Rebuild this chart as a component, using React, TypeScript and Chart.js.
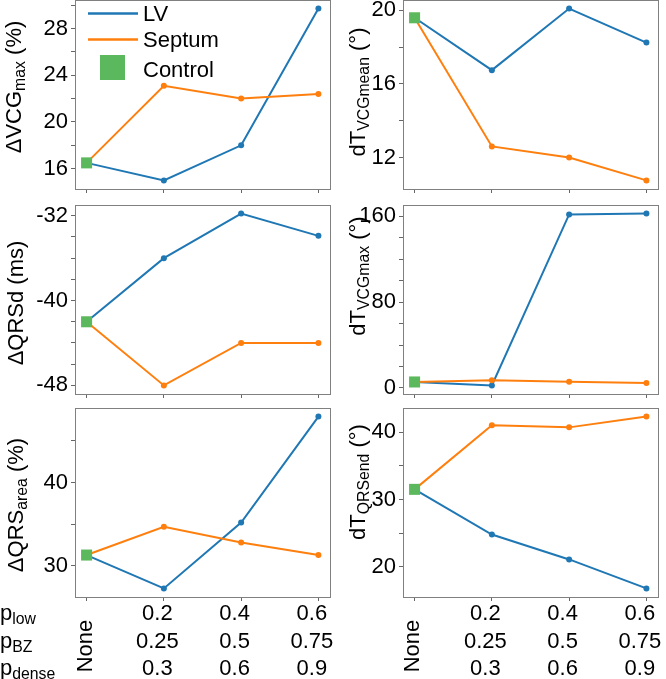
import React, { useEffect, useRef } from 'react';
import { Chart, registerables } from 'chart.js';

Chart.register(...registerables);

// ---------------- data ----------------
const CATEGORIES = ['None', '0.2', '0.4', '0.6'];
const NONE_LABEL = 'None';
const P_LOW_LABELS = ['0.2', '0.4', '0.6'];
const P_BZ_LABELS = ['0.25', '0.5', '0.75'];
const P_DENSE_LABELS = ['0.3', '0.6', '0.9'];
const SERIES_NAMES = ['LV', 'Septum', 'Control'];

const VCGMAX_LV = [16.5, 15.0, 18.0, 29.7];
const VCGMAX_SEPTUM = [16.5, 23.1, 22.0, 22.4];
const VCGMAX_CONTROL = 16.5;
const VCGMAX_MAJOR = [16, 20, 24, 28];
const VCGMAX_MINOR = [18, 22, 26, 30];

const TVCGMEAN_LV = [19.6, 16.75, 20.1, 18.25];
const TVCGMEAN_SEPTUM = [19.6, 12.6, 12.0, 10.75];
const TVCGMEAN_CONTROL = 19.6;
const TVCGMEAN_MAJOR = [12, 16, 20];
const TVCGMEAN_MINOR = [14, 18];

const QRSD_LV = [-42.0, -36.0, -31.8, -33.9];
const QRSD_SEPTUM = [-42.0, -48.0, -44.0, -44.0];
const QRSD_CONTROL = -42.0;
const QRSD_MAJOR = [-48, -40, -32];
const QRSD_MINOR = [-46, -44, -42, -38, -36, -34];

const TVCGMAX_LV = [5.6, 2.4, 161.6, 162.4];
const TVCGMAX_SEPTUM = [5.6, 7.1, 5.8, 4.6];
const TVCGMAX_CONTROL = 5.6;
const TVCGMAX_MAJOR = [0, 80, 160];
const TVCGMAX_MINOR = [20, 40, 60, 100, 120, 140];

const QRSAREA_LV = [31.3, 27.3, 35.2, 47.9];
const QRSAREA_SEPTUM = [31.3, 34.7, 32.8, 31.3];
const QRSAREA_CONTROL = 31.3;
const QRSAREA_MAJOR = [30, 40];
const QRSAREA_MINOR = [35, 45];

const TQRSEND_LV = [31.5, 24.8, 21.1, 16.8];
const TQRSEND_SEPTUM = [31.5, 41.0, 40.7, 42.3];
const TQRSEND_CONTROL = 31.5;
const TQRSEND_MAJOR = [20, 30, 40];
const TQRSEND_MINOR = [25, 35];

// ---------------- style ----------------
const FONT = "'Liberation Sans', Arial, Helvetica, sans-serif";
const C_LV = '#1f77b4';
const C_SEPTUM = '#ff7f0e';
const C_CTRL = '#5cb85c';
const FRAME = '#808080';
const TICK = '#666666';
const FS = 22;
const FS_SUB = 15.8;
const XH = 6;

type Seg = { t: string; sub?: boolean };
interface Panel {
  lv: number[];
  septum: number[];
  control: number;
  major: number[];
  minor: number[];
  title: Seg[];
  titleX: number;
  titleY: number;
  rect: [number, number, number, number];
  canvas: [number, number, number, number];
  legend?: boolean;
  bottomLabels?: boolean;
  rowLabels?: boolean;
  noneShift: number;
}

const LEFT_COL: [number, number] = [0, 340];
const RIGHT_COL: [number, number] = [333, 333];

const PANELS: Panel[] = [
  {
    lv: VCGMAX_LV, septum: VCGMAX_SEPTUM, control: VCGMAX_CONTROL,
    major: VCGMAX_MAJOR, minor: VCGMAX_MINOR,
    title: [{ t: 'ΔVCG' }, { t: 'max', sub: true }, { t: ' (%)' }],
    titleX: 21, titleY: 87,
    rect: [75, 0, 330, 189], canvas: [LEFT_COL[0], -20, LEFT_COL[1], 230],
    legend: true, noneShift: 5,
  },
  {
    lv: TVCGMEAN_LV, septum: TVCGMEAN_SEPTUM, control: TVCGMEAN_CONTROL,
    major: TVCGMEAN_MAJOR, minor: TVCGMEAN_MINOR,
    title: [{ t: 'dT' }, { t: 'VCGmean', sub: true }, { t: ' (°)' }],
    titleX: 365, titleY: 92,
    rect: [403, 0, 658, 189], canvas: [RIGHT_COL[0], -20, RIGHT_COL[1], 230],
    noneShift: 4,
  },
  {
    lv: QRSD_LV, septum: QRSD_SEPTUM, control: QRSD_CONTROL,
    major: QRSD_MAJOR, minor: QRSD_MINOR,
    title: [{ t: 'ΔQRSd (ms)' }],
    titleX: 23, titleY: 303,
    rect: [75, 205, 330, 394], canvas: [LEFT_COL[0], 185, LEFT_COL[1], 228],
    noneShift: 5,
  },
  {
    lv: TVCGMAX_LV, septum: TVCGMAX_SEPTUM, control: TVCGMAX_CONTROL,
    major: TVCGMAX_MAJOR, minor: TVCGMAX_MINOR,
    title: [{ t: 'dT' }, { t: 'VCGmax', sub: true }, { t: ' (°)' }],
    titleX: 365, titleY: 276,
    rect: [403, 205, 658, 394], canvas: [RIGHT_COL[0], 185, RIGHT_COL[1], 228],
    noneShift: 4,
  },
  {
    lv: QRSAREA_LV, septum: QRSAREA_SEPTUM, control: QRSAREA_CONTROL,
    major: QRSAREA_MAJOR, minor: QRSAREA_MINOR,
    title: [{ t: 'ΔQRS' }, { t: 'area', sub: true }, { t: ' (%)' }],
    titleX: 23, titleY: 505,
    rect: [75, 408, 330, 597], canvas: [LEFT_COL[0], 390, LEFT_COL[1], 289],
    bottomLabels: true, rowLabels: true, noneShift: 5,
  },
  {
    lv: TQRSEND_LV, septum: TQRSEND_SEPTUM, control: TQRSEND_CONTROL,
    major: TQRSEND_MAJOR, minor: TQRSEND_MINOR,
    title: [{ t: 'dT' }, { t: 'QRSend', sub: true }, { t: ' (°)' }],
    titleX: 365, titleY: 482,
    rect: [403, 408, 658, 597], canvas: [RIGHT_COL[0], 390, RIGHT_COL[1], 289],
    bottomLabels: true, noneShift: 4,
  },
];

function segFont(s: Seg) {
  return `${s.sub ? FS_SUB : FS}px ${FONT}`;
}

function drawRich(ctx: CanvasRenderingContext2D, segs: Seg[], x: number, y: number, align: 'left' | 'center') {
  let w = 0;
  for (const s of segs) {
    ctx.font = segFont(s);
    w += ctx.measureText(s.t).width;
  }
  let cx = align === 'center' ? x - w / 2 : x;
  ctx.textAlign = 'left';
  ctx.textBaseline = 'alphabetic';
  for (const s of segs) {
    ctx.font = segFont(s);
    ctx.fillText(s.t, cx, y + (s.sub ? 4 : 0));
    cx += ctx.measureText(s.t).width;
  }
}

function makePlugin(p: Panel) {
  return {
    id: 'decor',
    afterDraw(chart: any) {
      const ctx: CanvasRenderingContext2D = chart.ctx;
      const ox = p.canvas[0];
      const oy = p.canvas[1];
      const { left, top, right, bottom } = chart.chartArea;
      const al = (v: number) => Math.round(v - 0.5) + 0.5;
      ctx.save();
      // frame
      ctx.strokeStyle = FRAME;
      ctx.lineWidth = 1;
      ctx.strokeRect(al(left), al(top), al(right) - al(left), al(bottom) - al(top));
      ctx.fillStyle = '#000';
      // y title (rotated)
      ctx.save();
      ctx.translate(p.titleX - ox, p.titleY - oy);
      ctx.rotate(-Math.PI / 2);
      drawRich(ctx, p.title, 0, 0, 'center');
      ctx.restore();

      // legend
      if (p.legend) {
        ctx.lineCap = 'butt';
        ctx.lineWidth = 2.5;
        ctx.strokeStyle = C_LV;
        ctx.beginPath();
        ctx.moveTo(88 - ox, 13.5 - oy);
        ctx.lineTo(138 - ox, 13.5 - oy);
        ctx.stroke();
        ctx.strokeStyle = C_SEPTUM;
        ctx.beginPath();
        ctx.moveTo(88 - ox, 39.5 - oy);
        ctx.lineTo(138 - ox, 39.5 - oy);
        ctx.stroke();
        ctx.fillStyle = C_CTRL;
        ctx.fillRect(100 - ox, 55 - oy, 25, 25);
        ctx.fillStyle = '#000';
        ctx.font = `${FS}px ${FONT}`;
        ctx.textAlign = 'left';
        ctx.textBaseline = 'alphabetic';
        ctx.fillText(SERIES_NAMES[0], 143 - ox, 21 - oy);
        ctx.fillText(SERIES_NAMES[1], 143 - ox, 46.5 - oy);
        ctx.fillText(SERIES_NAMES[2], 143 - ox, 77 - oy);
      }

      // bottom category labels
      if (p.bottomLabels) {
        const xs = chart.scales.x;
        ctx.font = `${FS}px ${FONT}`;
        ctx.textAlign = 'center';
        ctx.textBaseline = 'alphabetic';
        const rows = [P_LOW_LABELS, P_BZ_LABELS, P_DENSE_LABELS];
        const baselines = [620, 648, 675];
        for (let i = 1; i < CATEGORIES.length; i++) {
          const px = xs.getPixelForValue(i) - 6.5;
          rows.forEach((r, k) => ctx.fillText(r[i - 1], px, baselines[k] - oy));
        }
        const x0 = xs.getPixelForValue(0);
        ctx.save();
        ctx.translate(x0 + p.noneShift, 646 - oy);
        ctx.rotate(-Math.PI / 2);
        ctx.textAlign = 'center';
        ctx.fillText(NONE_LABEL, 0, 0);
        ctx.restore();
      }
      if (p.rowLabels) {
        const rowsSeg: Seg[][] = [
          [{ t: 'p' }, { t: 'low', sub: true }],
          [{ t: 'p' }, { t: 'BZ', sub: true }],
          [{ t: 'p' }, { t: 'dense', sub: true }],
        ];
        const baselines = [620, 648, 675];
        rowsSeg.forEach((s, k) => drawRich(ctx, s, 0 - ox, baselines[k] - oy, 'left'));
      }
      ctx.restore();
    },
  };
}

function PanelChart({ p }: { p: Panel }) {
  const ref = useRef<HTMLCanvasElement>(null);
  const [cx, cy, cw, ch] = p.canvas;
  useEffect(() => {
    const [L, T, R, B] = p.rect;
    const all = [...p.lv, ...p.septum, p.control];
    const lo = Math.min(...all);
    const hi = Math.max(...all);
    const m = (hi - lo) * 0.05;
    const yTicks = [...p.major, ...p.minor].sort((a, b) => a - b);
    const gridOpts = {
      display: true,
      drawOnChartArea: false,
      drawTicks: true,
      tickLength: 4,
      color: TICK,
      tickColor: TICK,
      lineWidth: 1,
    };
    const chart = new Chart(ref.current as HTMLCanvasElement, {
      type: 'line',
      data: {
        datasets: [
          {
            label: SERIES_NAMES[0],
            data: p.lv.map((y, i) => ({ x: i, y })),
            borderColor: C_LV,
            backgroundColor: C_LV,
            borderWidth: 2,
            pointRadius: 3,
            pointHoverRadius: 3,
            pointBorderWidth: 0,
            tension: 0,
            order: 2,
          },
          {
            label: SERIES_NAMES[1],
            data: p.septum.map((y, i) => ({ x: i, y })),
            borderColor: C_SEPTUM,
            backgroundColor: C_SEPTUM,
            borderWidth: 2,
            pointRadius: 3,
            pointHoverRadius: 3,
            pointBorderWidth: 0,
            tension: 0,
            order: 1,
          },
          {
            label: SERIES_NAMES[2],
            data: [{ x: 0, y: p.control }],
            showLine: false,
            pointStyle: 'rect',
            pointRadius: 7.8,
            pointHoverRadius: 7.8,
            pointBorderWidth: 0,
            borderColor: C_CTRL,
            backgroundColor: C_CTRL,
            order: 0,
          },
        ],
      },
      options: {
        responsive: false,
        animation: false,
        events: [],
        layout: {
          autoPadding: false,
          padding: { left: 0, top: T - cy, right: cx + cw - R, bottom: cy + ch - B - XH },
        },
        plugins: { legend: { display: false }, tooltip: { enabled: false }, title: { display: false } },
        scales: {
          x: {
            type: 'linear',
            min: -0.15,
            max: 3.15,
            afterBuildTicks: (s: any) => {
              s.ticks = CATEGORIES.map((_, i) => ({ value: i }));
            },
            afterFit: (s: any) => {
              s.height = XH;
            },
            ticks: { display: false },
            grid: gridOpts,
            border: { display: false },
          },
          y: {
            type: 'linear',
            min: lo - m,
            max: hi + m,
            afterBuildTicks: (s: any) => {
              s.ticks = yTicks.map((v) => ({ value: v }));
            },
            afterFit: (s: any) => {
              s.width = L - cx;
            },
            ticks: {
              autoSkip: false,
              padding: 3,
              color: '#000',
              font: { size: FS, family: FONT },
              callback: (v: any) => (p.major.includes(Number(v)) ? String(v) : ''),
            },
            grid: gridOpts,
            border: { display: false },
          },
        },
      } as any,
      plugins: [makePlugin(p)],
    });
    return () => chart.destroy();
  }, [p]);
  return (
    <canvas
      ref={ref}
      width={cw}
      height={ch}
      style={{ position: 'absolute', left: cx, top: cy, width: cw, height: ch }}
    />
  );
}

export default function App() {
  return (
    <div style={{ position: 'absolute', left: 0, top: 0, width: 666, height: 679, overflow: 'hidden', background: '#fff' }}>
      {PANELS.map((p, i) => (
        <PanelChart key={i} p={p} />
      ))}
    </div>
  );
}
